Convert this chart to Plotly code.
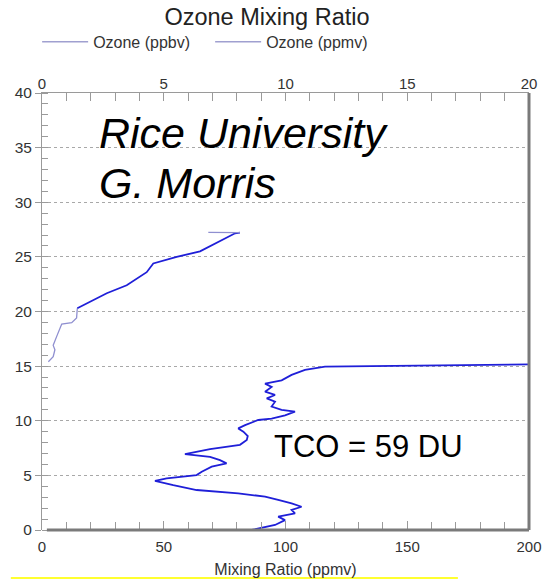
import plotly.graph_objects as go

# Ozonesonde profile: troposphere read against the ppbv scale (bottom axis),
# stratosphere against the ppmv scale (top axis). Altitude in km.
ppbv_alt = [0.0, 0.46, 0.9, 1.22, 1.53, 1.83, 2.13, 2.44, 2.75, 3.05, 3.36, 3.66,
            4.1, 4.5, 4.73, 4.88, 5.03, 5.34, 5.8, 6.1, 6.4, 6.7, 6.95, 7.4, 7.6,
            7.8, 8.24, 8.6, 9.0, 9.3, 9.6, 10.07, 10.2, 10.5, 10.83, 11.0, 11.3,
            11.74, 12.05, 12.36, 12.66, 13.1, 13.4, 13.7, 14.2, 14.65, 14.95, 15.0,
            15.05, 15.17, 15.2]
ppbv_val = [86.1, 95.7, 99.8, 97.0, 103.9, 102.5, 106.6, 102.5, 97.0, 91.6, 80.6,
            63.5, 53.9, 46.4, 51.2, 58.0, 63.5, 65.6, 69.7, 75.8, 73.1, 69.0, 58.7,
            69.0, 75.8, 81.3, 84.1, 84.5, 82.7, 80.6, 83.4, 88.8, 94.3, 99.8, 103.9,
            98.4, 94.3, 95.7, 92.3, 95.7, 91.6, 94.3, 91.6, 98.4, 102.5, 108.0,
            116.2, 133.0, 160.8, 199.7, 215.0]

ppmv_alt = [15.4, 15.86, 16.5, 16.9, 17.7, 18.6, 18.85, 18.97, 19.4, 20.3, 20.75,
            21.67, 22.4, 23.6, 24.4, 25.0, 25.5, 25.8, 26.7, 27.16, 27.22, 27.25]
ppmv_val = [0.26, 0.46, 0.53, 0.46, 0.6, 0.74, 0.81, 1.22, 1.42, 1.45, 1.83, 2.66,
            3.48, 4.3, 4.57, 5.53, 6.49, 6.76, 7.58, 7.93, 8.13, 6.83]

x_ppbv_ticks = [0, 50, 100, 150, 200]
x_ppmv_ticks = [0, 5, 10, 15, 20]
y_ticks = [0, 5, 10, 15, 20, 25, 30, 35, 40]

FONT = "Liberation Sans, Arial, sans-serif"
LABEL = "#333333"
AXIS = "#9a9a9a"
DATA_BLUE = "#1f1fd8"
LIGHT_BLUE = "#8f8fd0"
LEGEND_LINE = "#a0a0d0"

fig = go.Figure()

# Legend stand-ins in the light legend colour
fig.add_trace(go.Scatter(x=[None], y=[None], mode="lines", name="Ozone (ppbv)",
                         line=dict(color=LEGEND_LINE, width=1.5), xaxis="x"))
fig.add_trace(go.Scatter(x=[None], y=[None], mode="lines", name="Ozone (ppmv)",
                         line=dict(color=LEGEND_LINE, width=1.5), xaxis="x2"))

fig.add_trace(go.Scatter(x=ppbv_val, y=ppbv_alt, mode="lines", showlegend=False,
                         line=dict(color=DATA_BLUE, width=1.8), xaxis="x", yaxis="y"))

# lower stratosphere drawn faint, upper part dark
split = 10
fig.add_trace(go.Scatter(x=ppmv_val[:split], y=ppmv_alt[:split], mode="lines",
                         showlegend=False, line=dict(color=LIGHT_BLUE, width=1.3),
                         xaxis="x2", yaxis="y"))
fig.add_trace(go.Scatter(x=ppmv_val[split - 1:-1], y=ppmv_alt[split - 1:-1], mode="lines",
                         showlegend=False, line=dict(color=DATA_BLUE, width=1.8),
                         xaxis="x2", yaxis="y"))
fig.add_trace(go.Scatter(x=ppmv_val[-2:], y=ppmv_alt[-2:], mode="lines",
                         showlegend=False, line=dict(color=LIGHT_BLUE, width=1.3),
                         xaxis="x2", yaxis="y"))

fig.update_layout(
    width=543, height=579,
    margin=dict(l=42, r=14, t=93, b=49, autoexpand=False),
    paper_bgcolor="white", plot_bgcolor="white",
    font=dict(family=FONT, color=LABEL),
    title=dict(text="Ozone Mixing Ratio", x=267 / 543, xref="container", xanchor="center",
               y=1 - 17 / 579, yref="container", yanchor="middle",
               font=dict(size=23.5, color="#222")),
    legend=dict(orientation="h", x=-0.01, xanchor="left", y=1.117, yanchor="middle",
                font=dict(size=16, color="#333"), bgcolor="rgba(0,0,0,0)",
                itemwidth=46, entrywidth=112, entrywidthmode="pixels"),
    xaxis=dict(range=[0, 200], tickvals=x_ppbv_ticks, ticks="inside", ticklen=9,
               tickcolor=AXIS, tickwidth=1, showgrid=False, zeroline=False,
               showline=False, automargin=False, ticklabelstandoff=6,
               tickfont=dict(size=15, color=LABEL),
               minor=dict(dtick=10, ticks="inside", ticklen=8, tickcolor=AXIS,
                          showgrid=False),
               title=dict(text="Mixing Ratio (ppmv)", font=dict(size=16, color="#333"),
                          standoff=9)),
    xaxis2=dict(range=[0, 20], tickvals=x_ppmv_ticks, overlaying="x", side="top",
                ticks="inside", ticklen=8, tickcolor=AXIS, showgrid=False,
                zeroline=False, showline=True, linecolor=AXIS, linewidth=1,
                automargin=False, ticklabelstandoff=-3,
                tickfont=dict(size=15, color=LABEL),
                minor=dict(dtick=1, ticks="inside", ticklen=8, tickcolor=AXIS,
                           showgrid=False)),
    yaxis=dict(range=[0, 40], tickvals=y_ticks, ticks="outside", ticklen=6,
               tickcolor=AXIS, showline=True, linecolor=AXIS, linewidth=1,
               zeroline=False, showgrid=True, gridcolor="#a8a8a8", griddash="dot",
               gridwidth=1, automargin=False, tickfont=dict(size=15.5, color=LABEL),
               minor=dict(dtick=1, ticks="inside", ticklen=6, tickcolor=AXIS,
                          showgrid=False)),
    shapes=[
        # heavy right and bottom frame edges
        dict(type="line", xref="paper", yref="paper", x0=1, x1=1, y0=0, y1=1,
             line=dict(color="#7a7a7a", width=3), layer="above"),
        dict(type="line", xref="x", yref="paper", x0=2, x1=200, y0=0, y1=0,
             line=dict(color="#7a7a7a", width=3), layer="above"),
        # highlighter strip along the bottom edge of the page
        dict(type="rect", xref="paper", yref="paper", x0=-0.064, x1=0.854,
             y0=-0.1121, y1=-0.1075, fillcolor="#ffff30", line=dict(width=0),
             layer="above"),
    ],
    annotations=[
        dict(text="<i>Rice University</i>", xref="paper", yref="y", x=0.113, y=36.3,
             xanchor="left", yanchor="middle", showarrow=False,
             font=dict(size=43, color="#000")),
        dict(text="<i>G. Morris</i>", xref="paper", yref="y", x=0.113, y=31.8,
             xanchor="left", yanchor="middle", showarrow=False,
             font=dict(size=43, color="#000")),
        dict(text="TCO = 59 DU", xref="x", yref="y", x=94.5, y=7.6,
             xanchor="left", yanchor="middle", showarrow=False,
             font=dict(size=31, color="#000")),
    ],
)

fig.write_html("out.html")
